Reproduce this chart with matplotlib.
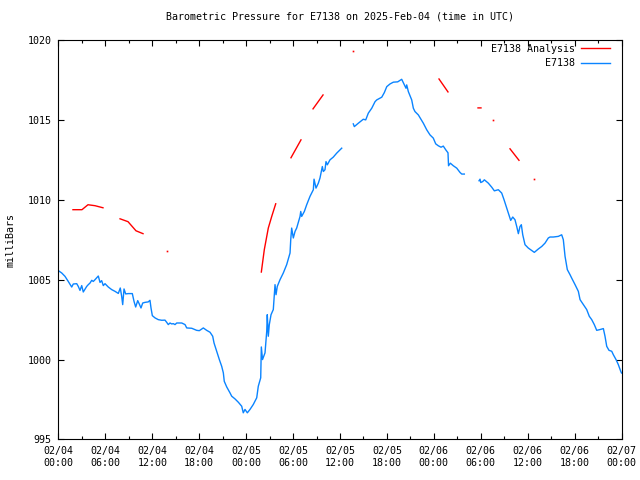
# Barometric pressure for E7138, observation vs analysis
import numpy as np
import pandas as pd
import matplotlib
matplotlib.use('Agg')
from matplotlib import pyplot as plt
import matplotlib.dates as mdates

plt.rcParams['font.family'] = 'DejaVu Sans Mono'
plt.rcParams['font.size'] = 7.2

start = pd.Timestamp('2025-02-04 00:00')

# observed pressure (hours after start, mbar); nan = gap in the record
obs_hours = [0.0, 0.41, 0.83, 1.25, 1.69, 1.89, 2.33, 2.53, 2.75, 2.97, 3.17, 3.61, 3.81, 4.03, 4.25,
             4.45, 4.67, 5.09, 5.31, 5.52, 5.73, 5.95, 6.37, 6.80, 7.23, 7.65, 7.90, 8.08, 8.21, 8.38,
             8.59, 8.93, 9.44, 9.66, 9.87, 10.13, 10.33, 10.55, 10.77, 11.06, 11.48, 11.70, 11.83, 12.0,
             12.34, 12.76, 13.2, 13.62, 13.84, 14.04, 14.26, 14.48, 14.68, 14.9, 15.12, 15.76, 16.18,
             16.40, 17.04, 17.24, 17.67, 18.01, 18.52, 18.95, 19.38, 19.72, 19.89, 20.23, 20.57, 20.87,
             21.08, 21.20, 21.51, 21.93, 22.15, 22.57, 23.0, 23.43, 23.63, 23.85, 24.15, 24.49, 24.91,
             25.35, 25.55, 25.86, 25.94, 26.09, 26.41, 26.63, 26.70, 26.83, 26.96, 27.18, 27.47, 27.69,
             27.82, 27.98, 28.33, 28.75, 29.18, 29.61, 29.70, 29.82, 30.03, 30.25, 30.46, 30.89, 30.98,
             31.10, 31.44, 31.74, 32.16, 32.59, 32.68, 32.93, 33.23, 33.44, 33.74, 33.87, 34.08, 34.21,
             34.38, 34.72, 35.14, 35.58, 36.22, 37.0,
             37.70, 37.83, 38.34, 38.98, 39.29, 39.62, 40.06, 40.48, 40.70, 41.12, 41.34, 41.67, 41.98,
             42.40, 42.82, 43.38, 43.89, 44.10, 44.31, 44.44, 44.53, 44.74, 45.17, 45.38, 45.59, 46.02,
             46.36, 46.66, 47.09, 47.51, 47.93, 48.24, 48.57, 48.92, 49.21, 49.52, 49.81, 49.88, 50.11,
             50.49, 50.93, 51.35, 51.57, 51.90, 52.8,
             53.78, 53.91, 54.0, 54.25, 54.46, 54.97, 55.40, 55.74, 56.25, 56.68, 56.98, 57.32, 57.62,
             57.83, 58.09, 58.38, 58.60, 58.81, 59.02, 59.19, 59.37, 59.66, 60.08, 60.52, 60.85, 61.36,
             61.80, 62.22, 62.64, 62.86, 63.28, 63.92, 64.35, 64.56, 64.78, 65.07, 65.42, 65.63, 66.06,
             66.48, 66.70, 67.12, 67.55, 67.88, 68.19, 68.52, 68.83, 69.26, 69.68, 69.89, 70.11, 70.40,
             70.75, 70.95, 71.30, 71.59, 71.90, 72.0]
obs_mbar = [1005.56, 1005.42, 1005.21, 1004.89, 1004.54, 1004.73, 1004.75, 1004.58, 1004.33, 1004.63,
            1004.23, 1004.58, 1004.69, 1004.79, 1004.96, 1004.89, 1005.0, 1005.23, 1004.83, 1004.94,
            1004.63, 1004.75, 1004.54, 1004.38, 1004.27, 1004.14, 1004.48, 1003.96, 1003.44, 1004.42,
            1004.11, 1004.13, 1004.13, 1003.64, 1003.29, 1003.69, 1003.48, 1003.23, 1003.54, 1003.58,
            1003.61, 1003.71, 1003.23, 1002.75, 1002.61, 1002.5, 1002.46, 1002.47, 1002.33, 1002.19,
            1002.29, 1002.23, 1002.25, 1002.19, 1002.29, 1002.29, 1002.19, 1001.98, 1001.96, 1001.92,
            1001.83, 1001.81, 1001.98, 1001.83, 1001.71, 1001.46, 1001.04, 1000.52, 1000.0, 999.58,
            999.17, 998.64, 998.29, 997.92, 997.71, 997.54, 997.33, 997.08, 996.67, 996.88, 996.67,
            996.88, 997.19, 997.61, 998.33, 998.86, 1000.79, 1000.0, 1000.42, 1001.77, 1002.81, 1001.46,
            1002.19, 1002.81, 1003.13, 1004.69, 1004.06, 1004.58, 1005.0, 1005.42, 1005.94, 1006.67,
            1007.5, 1008.23, 1007.61, 1008.02, 1008.23, 1008.96, 1009.27, 1008.96, 1009.27, 1009.69,
            1010.21, 1010.63, 1011.29, 1010.73, 1011.04, 1011.36, 1012.08, 1011.77, 1011.88, 1012.39,
            1012.19, 1012.5, 1012.67, 1012.92, 1013.23, np.nan,
            1014.75, 1014.58, 1014.79, 1015.04, 1015.0, 1015.42, 1015.73, 1016.14, 1016.25, 1016.36,
            1016.42, 1016.71, 1017.08, 1017.25, 1017.36, 1017.38, 1017.54, 1017.33, 1017.13, 1016.98,
            1017.19, 1016.77, 1016.25, 1015.73, 1015.52, 1015.31, 1015.04, 1014.79, 1014.38, 1014.06,
            1013.86, 1013.5, 1013.38, 1013.29, 1013.36, 1013.13, 1012.94, 1012.13, 1012.29, 1012.13,
            1011.98, 1011.71, 1011.61, 1011.61, np.nan,
            1011.19, 1011.29, 1011.08, 1011.14, 1011.25, 1011.04, 1010.79, 1010.56, 1010.63, 1010.42,
            1010.0, 1009.48, 1009.0, 1008.71, 1008.92, 1008.75, 1008.33, 1007.88, 1008.33, 1008.44,
            1007.81, 1007.19, 1006.98, 1006.83, 1006.71, 1006.92, 1007.08, 1007.29, 1007.61, 1007.67,
            1007.67, 1007.71, 1007.81, 1007.5, 1006.46, 1005.63, 1005.31, 1005.10, 1004.69, 1004.27,
            1003.75, 1003.44, 1003.13, 1002.71, 1002.5, 1002.19, 1001.83, 1001.88, 1001.94, 1001.46,
            1000.83, 1000.58, 1000.52, 1000.31, 1000.0, 999.69, 999.27, 999.16]

# analysis pressure, broken into short pieces
ana_hours = [1.85, 3.0, 3.77, 4.67, 5.69, 6.8,
             7.87, 8.89, 9.91, 10.81, 12.0,
             13.88, 20.0,
             25.94, 26.32, 26.83, 27.27, 27.78, 28.7,
             29.73, 31.01, 31.8,
             32.55, 33.83, 35.0,
             37.66, 43.0,
             48.66, 49.81, 51.0,
             53.65, 54.03, 55.0,
             55.57, 56.5,
             57.74, 58.89, 59.8,
             60.81]
ana_mbar = [1009.38, 1009.38, 1009.69, 1009.63, 1009.5, np.nan,
            1008.81, 1008.63, 1008.06, 1007.88, np.nan,
            1006.81, np.nan,
            1005.48, 1006.88, 1008.23, 1008.96, 1009.75, np.nan,
            1012.63, 1013.75, np.nan,
            1015.69, 1016.56, np.nan,
            1019.31, np.nan,
            1017.56, 1016.75, np.nan,
            1015.75, 1015.75, np.nan,
            1015.0, np.nan,
            1013.19, 1012.47, np.nan,
            1011.31]

obs_t = start + pd.to_timedelta(obs_hours, unit='h')
ana_t = start + pd.to_timedelta(ana_hours, unit='h')
ana_v = np.array(ana_mbar)

# lone analysis values (no neighbour to join a line to)
prev_nan = np.r_[True, np.isnan(ana_v[:-1])]
next_nan = np.r_[np.isnan(ana_v[1:]), True]
lone = prev_nan & next_nan & ~np.isnan(ana_v)

fig = plt.figure(figsize=(6.4, 4.8), dpi=100)
ax = fig.add_axes([0.0914, 0.0844, 0.8797, 0.8323])

ax.plot(ana_t, ana_v, color='#ff0000', lw=1.0, label='E7138 Analysis')
ax.plot(ana_t[lone], ana_v[lone], color='#ff0000', ls='none', marker='s', ms=1.2, mew=0)
ax.plot(obs_t, obs_mbar, color='#0a84ff', lw=1.0, label='E7138')

ax.set_xlim(start, start + pd.Timedelta(hours=72))
ax.set_ylim(995, 1020)
ax.set_yticks([995, 1000, 1005, 1010, 1015, 1020])
ax.xaxis.set_major_locator(mdates.HourLocator(byhour=[0, 6, 12, 18]))
ax.xaxis.set_minor_locator(mdates.HourLocator(byhour=[3, 9, 15, 21]))
ax.xaxis.set_major_formatter(mdates.DateFormatter('%m/%d\n%H:%M'))
ax.tick_params(which='both', direction='in', top=True, right=True, colors='black', width=0.8)
ax.tick_params(which='major', length=4.5, pad=5)
ax.tick_params(which='minor', length=2.5)
for s in ax.spines.values():
    s.set_linewidth(0.8)

ax.set_ylabel('milliBars', labelpad=9)
ax.set_title('Barometric Pressure for E7138 on 2025-Feb-04 (time in UTC)', fontsize=7.2, pad=15)

leg = ax.legend(loc='upper right', frameon=False, markerfirst=False, handlelength=2.9,
                handletextpad=0.6, borderaxespad=0.2, labelspacing=0.45,
                bbox_to_anchor=(0.99, 1.005))

plt.savefig('out.png', dpi=100)
